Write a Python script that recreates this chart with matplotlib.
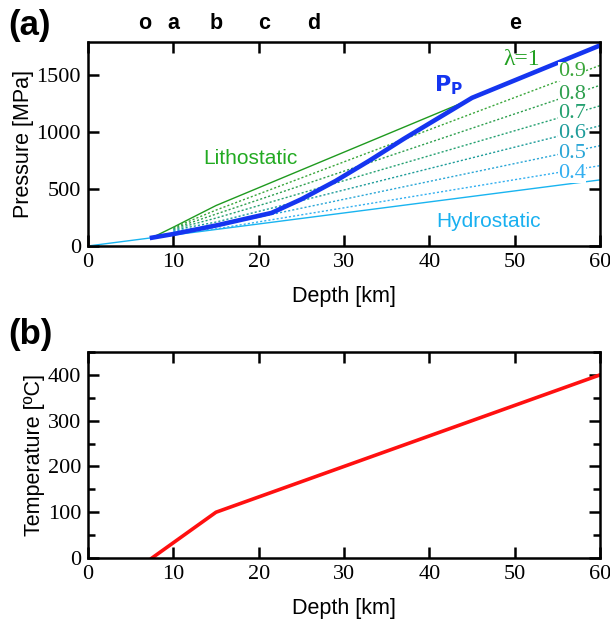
import numpy as np
import matplotlib
matplotlib.use("Agg")
import matplotlib.pyplot as plt
from matplotlib.ticker import MultipleLocator

# depth profiles
hyd_depth = [0, 60]
hyd_p = [0, 580]

lith_depth = [7.5, 10, 15, 60]
lith_p = [73, 165, 355, 1760]

pp_depth = [7.5, 10, 15, 21.5, 25, 29, 33, 37, 41, 45, 60]
pp_p = [73, 105, 180, 290, 410, 570, 750, 940, 1120, 1300, 1760]

lam_values = [0.9, 0.8, 0.7, 0.6, 0.5, 0.4]
lam_depth = [10, 15, 60]
lam_p = [
    [160, 315, 1585],
    [153, 280, 1410],
    [146, 245, 1230],
    [139, 210, 1055],
    [132, 175, 880],
    [125, 150, 705],
]
lam_colors = ["#3aa63a", "#2e9f4e", "#23a070", "#1e9c9a", "#2aa6d6", "#33aff0"]
lam_label_y = [1530, 1330, 1165, 985, 810, 635]

temp_depth = [7.5, 15, 60]
temp_c = [0, 100, 400]

site_labels = ["o", "a", "b", "c", "d", "e"]
site_depth = [6.6, 10, 15, 20.6, 26.4, 50]

serif = "Liberation Serif"
sans = "Liberation Sans"

fig = plt.figure(figsize=(6.1, 6.22), dpi=100)
ax1 = fig.add_axes([88/610, 1-246/622, 512/610, 204/622])
ax2 = fig.add_axes([88/610, 1-558/622, 512/610, 206/622])


def style(ax):
    for s in ax.spines.values():
        s.set_linewidth(1.8)
    ax.tick_params(which="both", direction="in", top=True, right=True, width=1.8)
    ax.tick_params(which="major", length=8, labelsize=16, pad=5)
    ax.tick_params(which="minor", length=5)
    for lab in ax.get_xticklabels() + ax.get_yticklabels():
        lab.set_fontfamily(serif)
    ax.set_xlabel("Depth [km]", fontsize=15.5, fontfamily=sans, labelpad=10)


# (a) pressure
ax1.plot(hyd_depth, hyd_p, color="#19b4f0", lw=1.0)
ax1.plot(lith_depth, lith_p, color="#1f9a1f", lw=1.0)
for vals, c in zip(lam_p, lam_colors):
    ax1.plot(lam_depth, vals, color=c, lw=1.0, ls=(0, (1.5, 1.5)))
ax1.plot(pp_depth, pp_p, color="#1535f0", lw=3.3, solid_joinstyle="miter")
ax1.set_xlim(0, 60)
ax1.set_ylim(0, 1790)
ax1.xaxis.set_major_locator(MultipleLocator(10))
ax1.yaxis.set_major_locator(MultipleLocator(500))
style(ax1)
ax1.set_ylabel("Pressure [MPa]", fontsize=15.5, fontfamily=sans, labelpad=2)

ax1.text(50.8, 1640, "λ=1", color="#22a022", fontsize=17, fontfamily=serif,
         ha="center", va="center")
for lam, c, yl in zip(lam_values, lam_colors, lam_label_y):
    ax1.text(56.7, yl, str(lam), color=c, fontsize=16, fontfamily=serif,
             ha="center", va="center",
             bbox=dict(facecolor="white", edgecolor="none", pad=0))
ax1.text(19, 770, "Lithostatic", color="#22aa22", fontsize=15, fontfamily=sans,
         ha="center", va="center")
ax1.text(46.9, 215, "Hydrostatic", color="#19b0f0", fontsize=15, fontfamily=sans,
         ha="center", va="center")
ax1.text(42.2, 1410, r"$\mathbf{P_P}$", color="#1535f0", fontsize=16,
         ha="center", va="center")
for lab, d in zip(site_labels, site_depth):
    ax1.text(d, 1.04, lab, transform=ax1.get_xaxis_transform(), fontsize=15.5,
             fontweight="bold", fontfamily=sans, ha="center", va="bottom")

# (b) temperature
ax2.plot(temp_depth, temp_c, color="#ff1010", lw=2.6)
ax2.set_xlim(0, 60)
ax2.set_ylim(0, 450)
ax2.xaxis.set_major_locator(MultipleLocator(10))
ax2.yaxis.set_major_locator(MultipleLocator(100))
ax2.yaxis.set_minor_locator(MultipleLocator(50))
style(ax2)
ax2.set_ylabel("Temperature [ºC]", fontsize=15.5, fontfamily=sans, labelpad=2)

fig.text(8/610, 1-25/622, "(a)", fontsize=25, fontweight="bold", fontfamily=sans,
         va="center", ha="left")
fig.text(8/610, 1-335/622, "(b)", fontsize=25, fontweight="bold", fontfamily=sans,
         va="center", ha="left")

fig.savefig("out.png", dpi=100)
